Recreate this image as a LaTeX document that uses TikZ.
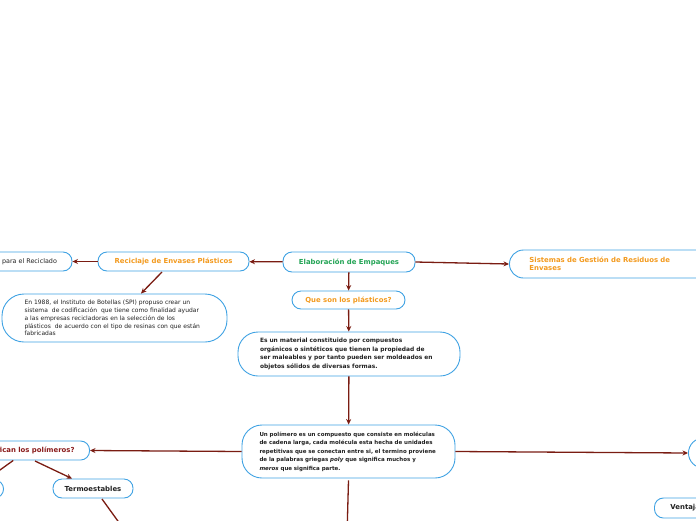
\documentclass[tikz,border=0pt]{standalone}
\usepackage{fontspec}
\setmainfont{DejaVu Sans}
\usetikzlibrary{arrows.meta}
\definecolor{bordblue}{HTML}{3FA2E3}
\definecolor{orng}{HTML}{F39A1E}
\definecolor{grn}{HTML}{23A455}
\definecolor{lnred}{HTML}{7A1C12}
\definecolor{txred}{HTML}{8A1B1B}
\definecolor{txdark}{HTML}{222222}
\tikzset{
  pill/.style={draw=bordblue, line width=0.9pt, rounded corners=9pt, fill=white, inner sep=0pt, align=center},
  bigbox/.style={draw=bordblue, line width=0.9pt, rounded corners=20pt, fill=white, inner ysep=0pt, align=left},
  conn/.style={draw=lnred, line width=1.3pt, -{Stealth[length=5.5pt,width=5pt]}},
  connplain/.style={draw=lnred, line width=1.3pt},
  ttl/.style={font=\fontsize{6.9}{8}\selectfont\bfseries},
}
\begin{document}
\begin{tikzpicture}[x=1pt,y=-1pt]
\useasboundingbox (0,0) rectangle (696,520);
% nodes
\node[pill, minimum width=85, minimum height=19, font=\fontsize{6.4}{7.5}\selectfont, text=txdark] (recic) at (29.5,261.5) {para el Reciclado};
\node[pill, minimum width=151, minimum height=19, ttl, text=orng] (recenv) at (173.5,261.5) {Reciclaje de Envases Plásticos};
\node[pill, minimum width=132, minimum height=20, ttl, text=grn] (elab) at (349,262) {Elaboración de Empaques};
\node[pill, rounded corners=14pt, anchor=west, minimum width=220, minimum height=28, ttl, text=orng, align=left, text width=180, inner xsep=20pt] (sist) at (509,264) {Sistemas de Gestión de Residuos de\\Envases};
\node[pill, minimum width=113, minimum height=18, ttl, text=orng] (queson) at (348.5,300) {Que son los plásticos?};
\node[bigbox, minimum width=225, minimum height=48, text width=180, inner xsep=22.5pt, rounded corners=22pt, font=\fontsize{6.0}{7.8}\selectfont, text=txdark] (e1988) at (114.5,318) {En 1988, el Instituto de Botellas (SPI) propuso crear un\\sistema\ \ de codificación\ \ que tiene como finalidad ayudar\\a las empresas recicladoras en la selección de los\\plásticos\ \ de acuerdo con el tipo de resinas con que están\\fabricadas};
\node[bigbox, minimum width=222, minimum height=44, text width=178, inner xsep=22pt, font=\fontsize{5.9}{8.7}\selectfont\bfseries, text=txdark] (esun) at (349,354) {Es un material constituido por compuestos\\orgánicos o sintéticos que tienen la propiedad de\\ser maleables y por tanto pueden ser moldeados en\\objetos sólidos de diversas formas.};
\node[bigbox, minimum width=213, minimum height=53, text width=178, inner xsep=17.5pt, font=\fontsize{5.5}{8.5}\selectfont\bfseries, text=txdark] (unpol) at (348.5,451.5) {Un polímero es un compuesto que consiste en moléculas\\de cadena larga, cada molécula esta hecha de unidades\\repetitivas que se conectan entre si, el termino proviene\\de la palabras griegas \textit{poly} que significa muchos y\\\textit{meros} que significa parte.};
\node[pill, anchor=east, minimum width=125, minimum height=19, ttl, text=txred] (clasif) at (90,450.5) {clasifican los polímeros?};
\node[pill, anchor=east, minimum width=60, minimum height=18] (leftn) at (4,489) {};
\node[pill, minimum width=80, minimum height=19, ttl, text=txdark] (termo) at (93,488.5) {Termoestables};
\node[pill, rounded corners=15pt, anchor=west, minimum width=60, minimum height=30] (rightn) at (688,453) {};
\node[pill, anchor=west, minimum width=80, minimum height=20, ttl, text=txdark, align=left, inner xsep=16pt, text width=50] (ventaj) at (654,508) {Ventajas};
\coordinate (down1) at (347,535);
\coordinate (down2) at (128,535);
% connectors
\draw[conn] (elab) -- (recenv);
\draw[conn] (recenv) -- (recic);
\draw[conn] (162,272) -- (e1988.north east -| 141,294);
\draw[conn] (elab.east) -- (sist.west);
\draw[conn] (elab) -- (queson);
\draw[conn] (queson) -- (esun);
\draw[conn] (esun) -- (unpol);
\draw[conn] (unpol.west) -- (clasif.east);
\draw[conn] (unpol.east) -- (rightn.west);
\draw[connplain] (unpol.south) ++(0,2) -- (down1);
\draw[conn] (35,461) -- (termo.north west -| 72,479);
\draw[conn] (clasif) -- (leftn);
\draw[connplain] (102,499) -- (down2);
\end{tikzpicture}
\end{document}
